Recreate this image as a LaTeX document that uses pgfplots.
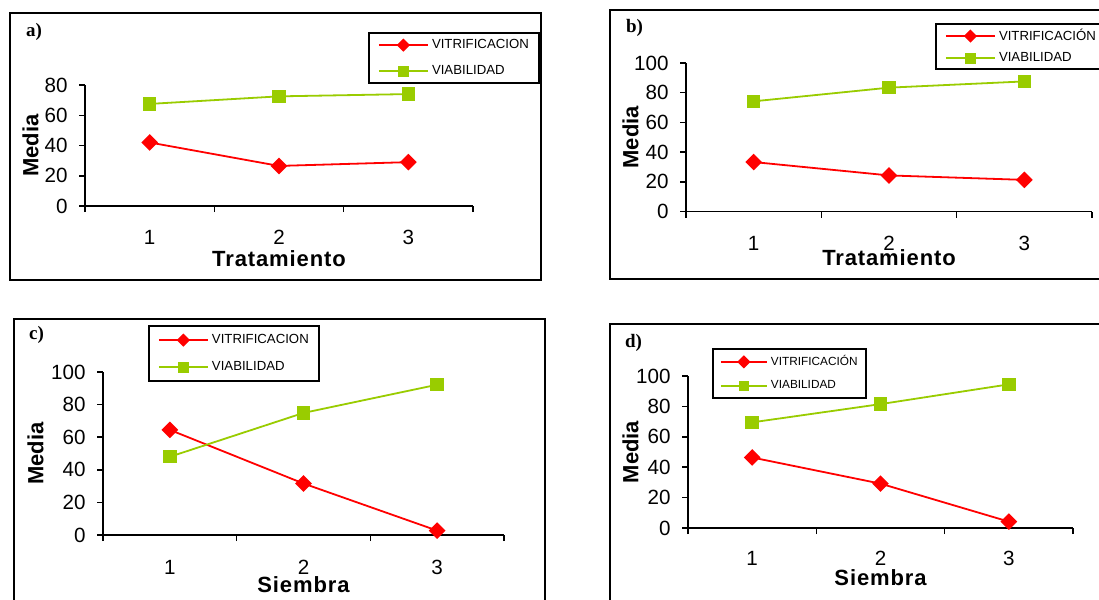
\documentclass[border=0pt]{standalone}
\usepackage{fontspec}
\setmainfont{Liberation Sans}
\newfontfamily\tnr{Liberation Serif}
\newfontfamily\xlab[LetterSpace=4]{Liberation Sans}
\usepackage{pgfplots}
\pgfplotsset{compat=1.18}
\definecolor{vred}{RGB}{255,0,0}
\definecolor{vgreen}{RGB}{153,204,0}
\def\u{0.5pt}
\pgfplotsset{
  legend image code/.code={%
    \draw[#1, mark repeat=2, mark phase=2, every mark/.append style={scale=0.75}]
      plot coordinates {(0pt,0pt) (12.25pt,0pt) (24.5pt,0pt)};},
  panel/.style={
    scale only axis,
    axis lines=left,
    axis line style={-, line width=0.75pt, black},
    tick align=outside,
    xmin=0.5, xmax=3.5, ymin=0,
    xtick={0.5,1.5,2.5,3.5}, xticklabels={},
    extra x ticks={1,2,3}, extra x tick labels={1,2,3},
    major tick length=3pt,
    tick style={line width=0.75pt, black},
    ytick distance=20,
    yticklabel style={font=\fontsize{10.3}{12}\selectfont, anchor=east, inner sep=0pt, xshift=-5.5pt},
    /pgf/number format/assume math mode=true,
    clip=false,
    every axis y label/.style={rotate=90, anchor=center, font=\bfseries\fontsize{11}{13}\selectfont},
    every axis x label/.style={anchor=center, font=\xlab\bfseries\fontsize{11}{13}\selectfont},
    legend cell align=left,
    legend style={draw=black, line width=1pt, anchor=north west, column sep=1pt,
      nodes={inner sep=0.6pt}, font=\fontsize{6.6}{8}\selectfont},
  },
  vit/.style={color=vred, line width=0.9pt, mark=square*, mark size=2.5pt, mark options={rotate=45, solid}},
  via/.style={color=vgreen, line width=0.9pt, mark=square*, mark size=2.9pt, mark options={solid}},
}
\begin{document}
\begin{tikzpicture}
\useasboundingbox (0,0) rectangle (1099*\u,-600*\u);
\fill[white] (0,0) rectangle (1099*\u,-600*\u);
% frames
\draw[line width=1pt] (10*\u,-13*\u) rectangle (541*\u,-280*\u);
\draw[line width=1pt] (610*\u,-10*\u) rectangle (1115*\u,-279*\u);
\draw[line width=1pt] (14*\u,-319*\u) rectangle (545*\u,-615*\u);
\draw[line width=1pt] (610*\u,-324*\u) rectangle (1115*\u,-615*\u);
\node[font=\tnr\bfseries\fontsize{9.5}{11}\selectfont, anchor=west] at (19*\u,-32*\u) {a)};
\node[font=\tnr\bfseries\fontsize{9.5}{11}\selectfont, anchor=west] at (619*\u,-28*\u) {b)};
\node[font=\tnr\bfseries\fontsize{9.5}{11}\selectfont, anchor=west] at (22*\u,-335*\u) {c)};
\node[font=\tnr\bfseries\fontsize{9.5}{11}\selectfont, anchor=west] at (618*\u,-343*\u) {d)};

% panel a
\begin{axis}[panel, at={(85*\u,-206*\u)}, anchor=south west,
  width=388*\u, height=121*\u, ymax=80,
  extra x tick style={major tick length=0pt, xticklabel style={font=\fontsize{10.3}{12}\selectfont, anchor=center, yshift=-15.5pt}},
  xlabel={Tratamiento}, ylabel={Media},
  xlabel style={at={(rel axis cs:0.5,-0.438)}},
  ylabel style={at={(rel axis cs:-0.1405,0.5)}},
  legend style={at={(0.7294,1.438)}, inner xsep=4.5pt, inner ysep=2.4pt, row sep=5.8pt}]
\addplot[vit] coordinates {(1,42) (2,26.5) (3,29)};
\addlegendentry{VITRIFICACION}
\addplot[via] coordinates {(1,67.5) (2,72.5) (3,74)};
\addlegendentry{VIABILIDAD}
\end{axis}

% panel b
\begin{axis}[panel, at={(686*\u,-211.5*\u)}, anchor=south west,
  width=406*\u, height=148.5*\u, ymax=100,
  extra x tick style={major tick length=0pt, xticklabel style={font=\fontsize{10.3}{12}\selectfont, anchor=center, yshift=-15.75pt}},
  xlabel={Tratamiento}, ylabel={Media},
  xlabel style={at={(rel axis cs:0.5,-0.313)}},
  ylabel style={at={(rel axis cs:-0.1367,0.5)}},
  legend style={at={(0.6133,1.2694)}, inner xsep=4.5pt, inner ysep=1.8pt, row sep=3.3pt}]
\addplot[vit] coordinates {(1,33.3) (2,24.3) (3,21.3)};
\addlegendentry{VITRIFICACIÓN}
\addplot[via] coordinates {(1,74.2) (2,83.4) (3,87.6)};
\addlegendentry{VIABILIDAD}
\end{axis}

% panel c
\begin{axis}[panel, at={(103*\u,-535*\u)}, anchor=south west,
  width=401*\u, height=163*\u, ymax=100,
  extra x tick style={major tick length=0pt, xticklabel style={font=\fontsize{10.3}{12}\selectfont, anchor=center, yshift=-16pt}},
  xlabel={Siembra}, ylabel={Media},
  xlabel style={at={(rel axis cs:0.5,-0.307)}},
  ylabel style={at={(rel axis cs:-0.1683,0.5)}},
  legend style={at={(0.1122,1.288)}, inner xsep=4.5pt, inner ysep=3.4pt, row sep=6.3pt}]
\addplot[vit] coordinates {(1,64.5) (2,31.6) (3,2.7)};
\addlegendentry{VITRIFICACION}
\addplot[via] coordinates {(1,48) (2,74.9) (3,92.2)};
\addlegendentry{VIABILIDAD}
\end{axis}

% panel d
\begin{axis}[panel, at={(688*\u,-528*\u)}, anchor=south west,
  width=385*\u, height=152*\u, ymax=100,
  extra x tick style={major tick length=0pt, xticklabel style={font=\fontsize{10.3}{12}\selectfont, anchor=center, yshift=-15pt}},
  xlabel={Siembra}, ylabel={Media},
  xlabel style={at={(rel axis cs:0.5,-0.329)}},
  ylabel style={at={(rel axis cs:-0.1494,0.5)}},
  legend image code/.code={%
    \draw[#1, mark repeat=2, mark phase=2, every mark/.append style={scale=0.75}]
      plot coordinates {(0pt,0pt) (11.5pt,0pt) (23pt,0pt)};},
  legend style={at={(0.0623,1.184)}, inner xsep=3.5pt, inner ysep=2.5pt, row sep=4.7pt, font=\fontsize{5.9}{7}\selectfont}]
\addplot[vit] coordinates {(1,46.4) (2,29.2) (3,4.2)};
\addlegendentry{VITRIFICACIÓN}
\addplot[via] coordinates {(1,69.5) (2,81.5) (3,94.5)};
\addlegendentry{VIABILIDAD}
\end{axis}
\end{tikzpicture}
\end{document}
